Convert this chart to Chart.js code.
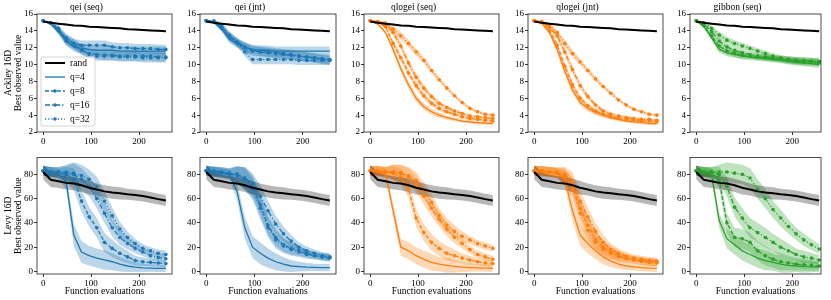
<!DOCTYPE html>
<html>
<head>
<meta charset="utf-8">
<script src="https://cdn.jsdelivr.net/npm/chart.js@4.4.0/dist/chart.umd.min.js"></script>
<style>
  body { margin: 0; background: #fff; width: 831px; height: 300px; overflow: hidden; position: relative; }
  .panel { position: absolute; }
</style>
</head>
<body>
<script>
// function evaluations (x), one value every 16 evaluations
const evals = [0, 16, 32, 48, 64, 80, 96, 112, 128, 144, 160, 176, 192, 208, 224, 240, 256];
const methods = ['qei (seq)', 'qei (jnt)', 'qlogei (seq)', 'qlogei (jnt)', 'gibbon (seq)'];
const batchLabels = ['q=4', 'q=8', 'q=16', 'q=32'];
const problems = ['Ackley 16D', 'Levy 16D'];
const xTickValues = [0, 100, 200];
const ackleyTickValues = [2, 4, 6, 8, 10, 12, 14, 16];
const levyTickValues = [0, 20, 40, 60, 80];

// --- Ackley 16D (top row) ---
const ackleyRand = [15.1, 14.95, 14.85, 14.75, 14.65, 14.6, 14.5, 14.45, 14.4, 14.35, 14.3, 14.2, 14.15, 14.1, 14.05, 14.0, 13.95];
const ackleyRandSpread = [0.08, 0.08, 0.08, 0.08, 0.08, 0.08, 0.08, 0.08, 0.08, 0.08, 0.08, 0.08, 0.08, 0.08, 0.08, 0.08, 0.08];

// rows: q=4, q=8, q=16, q=32
const ackleyQeiSeq = [
  [15.2, 14.8, 13.9, 12.8, 12.1, 11.9, 11.8, 11.7, 11.7, 11.7, 11.6, 11.6, 11.6, 11.6, 11.6, 11.6, 11.6],
  [15.2, 14.9, 14.2, 13.0, 12.5, 12.3, 12.3, 12.3, 12.3, 12.1, 12.0, 12.0, 11.9, 11.9, 11.9, 11.8, 11.8],
  [15.2, 14.9, 14.0, 12.8, 12.3, 11.7, 11.3, 11.2, 11.1, 11.1, 11.0, 11.0, 11.0, 11.0, 11.0, 10.9, 10.9],
  [15.2, 15.0, 14.3, 13.2, 12.5, 11.8, 11.2, 11.0, 11.0, 11.0, 10.9, 10.9, 10.9, 10.8, 10.8, 10.8, 10.8]
];
const ackleyQeiJnt = [
  [15.2, 15.0, 14.2, 13.0, 12.5, 12.1, 11.8, 11.7, 11.7, 11.6, 11.6, 11.6, 11.6, 11.6, 11.6, 11.6, 11.6],
  [15.2, 15.1, 14.3, 13.2, 12.6, 12.0, 11.6, 11.5, 11.4, 11.3, 11.2, 11.1, 11.0, 10.9, 10.8, 10.7, 10.6],
  [15.2, 15.1, 14.5, 13.4, 12.7, 12.1, 11.7, 11.6, 11.5, 11.4, 11.3, 11.2, 11.0, 10.9, 10.8, 10.6, 10.5],
  [15.2, 15.2, 14.7, 13.5, 12.6, 11.5, 10.6, 10.6, 10.6, 10.6, 10.6, 10.6, 10.5, 10.5, 10.5, 10.5, 10.5]
];
const ackleyQlogeiSeq = [
  [15.2, 14.8, 13.8, 11.8, 9.5, 7.6, 6.0, 5.0, 4.4, 4.0, 3.7, 3.5, 3.3, 3.2, 3.1, 3.05, 3.0],
  [15.2, 15.0, 14.5, 12.5, 10.8, 9.0, 7.5, 6.3, 5.4, 4.8, 4.4, 4.1, 3.8, 3.6, 3.5, 3.4, 3.3],
  [15.2, 15.1, 14.8, 13.8, 12.2, 10.2, 8.5, 7.2, 6.2, 5.4, 4.9, 4.5, 4.2, 3.9, 3.8, 3.7, 3.6],
  [15.2, 15.1, 14.9, 14.2, 13.4, 12.5, 11.5, 10.5, 9.3, 8.2, 7.2, 6.3, 5.5, 4.8, 4.4, 4.1, 4.0]
];
const ackleyQlogeiJnt = [
  [15.2, 14.9, 13.8, 11.8, 9.2, 7.0, 5.5, 4.8, 4.3, 4.0, 3.7, 3.5, 3.3, 3.2, 3.1, 3.0, 3.0],
  [15.2, 15.0, 14.0, 12.3, 9.8, 7.6, 6.0, 5.1, 4.5, 4.1, 3.8, 3.6, 3.5, 3.4, 3.3, 3.3, 3.2],
  [15.2, 15.1, 14.4, 13.4, 11.5, 9.4, 7.5, 6.2, 5.2, 4.5, 4.1, 3.9, 3.7, 3.6, 3.5, 3.5, 3.4],
  [15.2, 15.1, 14.7, 13.8, 12.5, 11.3, 10.3, 9.3, 8.3, 7.4, 6.6, 5.8, 5.2, 4.7, 4.4, 4.1, 4.0]
];
const ackleyGibbon = [
  [15.2, 14.5, 13.2, 11.8, 11.4, 11.2, 11.0, 10.9, 10.8, 10.7, 10.6, 10.5, 10.4, 10.3, 10.2, 10.1, 10.0],
  [15.2, 14.6, 13.4, 12.2, 11.6, 11.3, 11.1, 11.0, 10.9, 10.8, 10.7, 10.6, 10.5, 10.4, 10.3, 10.3, 10.2],
  [15.2, 14.8, 13.9, 12.8, 12.1, 11.7, 11.4, 11.2, 11.0, 10.9, 10.8, 10.7, 10.6, 10.5, 10.4, 10.4, 10.3],
  [15.2, 15.0, 14.3, 13.5, 12.9, 12.5, 12.2, 11.9, 11.6, 11.3, 11.0, 10.8, 10.6, 10.5, 10.5, 10.4, 10.4]
];
const ackleySpreads = [
  [0.05, 0.15, 0.35, 0.5, 0.55, 0.55, 0.55, 0.55, 0.55, 0.55, 0.55, 0.55, 0.55, 0.55, 0.55, 0.55, 0.55],
  [0.05, 0.1, 0.3, 0.45, 0.5, 0.55, 0.55, 0.55, 0.55, 0.55, 0.55, 0.55, 0.55, 0.55, 0.55, 0.55, 0.55],
  [0.05, 0.1, 0.25, 0.4, 0.45, 0.45, 0.45, 0.4, 0.35, 0.3, 0.25, 0.22, 0.2, 0.2, 0.18, 0.18, 0.18],
  [0.05, 0.1, 0.25, 0.4, 0.45, 0.45, 0.4, 0.35, 0.3, 0.28, 0.25, 0.22, 0.2, 0.2, 0.18, 0.18, 0.18],
  [0.05, 0.15, 0.3, 0.4, 0.4, 0.4, 0.4, 0.35, 0.35, 0.35, 0.35, 0.35, 0.4, 0.4, 0.4, 0.4, 0.4]
];

// --- Levy 16D (bottom row) ---
const levyRand = [82, 75.6, 74.3, 73, 72.4, 71, 69, 67.5, 66, 65, 64.4, 63.6, 63, 62.2, 61, 59.6, 58.5];
const levyRandSpread = [6, 6, 5.5, 5.5, 5.5, 5.5, 5.5, 5, 5, 5, 5, 4.5, 4.5, 4.5, 4.5, 4.5, 4.5];

const levyQeiSeq = [
  [83, 82, 80, 74, 30, 16, 13, 11, 9.5, 8, 6, 4.5, 3.5, 3, 2.8, 2.6, 2.5],
  [83, 82, 81, 80, 76, 58, 45, 36, 24, 19, 15, 12, 9, 8, 7.5, 7, 6.5],
  [83, 82, 82, 81, 80, 76, 70, 60, 48, 36, 28, 23, 19, 16, 13, 11.5, 10.5],
  [83, 82, 82, 82, 81, 79, 76, 70, 58, 46, 35, 28, 23, 19, 17, 15, 14]
];
const levyQeiJnt = [
  [83, 82, 81, 80, 66, 36, 20, 15, 11, 8, 6, 4.5, 4, 3.6, 3.4, 3.2, 3.1],
  [83, 82, 81, 80, 79, 77, 70, 55, 38, 28, 22, 19, 17, 15, 13, 12, 11],
  [83, 83, 82, 81, 80, 77, 72, 62, 50, 39, 31, 25, 20, 17, 15, 13, 12],
  [83, 82, 82, 81, 80, 76, 68, 52, 36, 26, 21, 18, 16, 14, 13, 12, 11.5]
];
const levyQlogeiSeq = [
  [83, 82, 81, 50, 20, 17, 13, 10, 7.5, 6, 5, 4.2, 3.6, 3.2, 2.9, 2.7, 2.5],
  [83, 83, 82, 81, 78, 68, 44, 32, 24, 19, 15, 13, 11, 9.5, 8, 7, 6.5],
  [83, 83, 82, 82, 81, 78, 72, 62, 52, 43, 35, 28, 23, 18, 14, 12, 10],
  [83, 83, 82, 82, 81, 79, 75, 67, 57, 46, 38, 33, 29, 26, 23, 21, 19]
];
const levyQlogeiJnt = [
  [83, 82, 82, 81, 76, 50, 30, 23, 17, 12, 8.5, 6, 4.5, 3.8, 3.2, 2.8, 2.6],
  [83, 83, 82, 81, 78, 70, 52, 38, 26, 20, 16, 13, 11, 9.5, 8.5, 7.5, 7],
  [83, 83, 82, 82, 80, 74, 58, 45, 33, 24, 18, 15, 12.5, 11, 10, 9, 8.5],
  [83, 83, 82, 81, 79, 68, 48, 34, 24, 18, 15, 12, 10.5, 9.5, 8.5, 8, 7.5]
];
const levyGibbon = [
  [83, 82, 80, 42, 27, 22, 17, 14, 11, 9, 7.5, 6, 5, 4.5, 4, 3.8, 3.5],
  [83, 82, 81, 75, 40, 28, 27, 24, 17, 13, 10, 8, 7, 6, 5.5, 5, 4.5],
  [83, 82, 82, 80, 70, 53, 44, 36, 32, 28, 24, 20, 17, 14, 12, 11, 9.5],
  [83, 82, 82, 82, 82, 81, 80, 77, 68, 60, 51, 44, 37, 31, 26, 22, 18.5]
];
const levySpreads = [
  [4, 4, 4, 6, 9, 9, 8, 8, 8, 7, 6, 5, 4, 3.5, 3, 3, 3],
  [4, 4, 4, 4, 7, 9, 9, 9, 8, 7, 6, 5, 4, 3.5, 3, 3, 3],
  [4, 4, 4, 6, 7, 7, 7, 7, 7, 6, 6, 5, 4, 3.5, 3, 3, 3],
  [4, 4, 4, 4, 6, 8, 9, 8, 7, 6, 5, 4, 3.5, 3, 3, 3, 3],
  [4, 4, 4, 6, 8, 8, 8, 8, 8, 8, 7, 7, 6, 5, 5, 4.5, 4]
];

const methodColors = ['#1f77b4', '#1f77b4', '#ff7f0e', '#ff7f0e', '#2ca02c'];
const bandColors = ['rgba(31,119,180,0.3)', 'rgba(31,119,180,0.3)', 'rgba(255,127,14,0.3)', 'rgba(255,127,14,0.3)', 'rgba(44,160,44,0.3)'];
const qStyles = [
  { dash: [], radius: 0 },
  { dash: [4, 2], radius: 1.8 },
  { dash: [5, 2, 1.2, 2], radius: 1.8 },
  { dash: [1.2, 2], radius: 1.8 }
];

const rows = [
  { title: problems[0], rand: ackleyRand, randSpread: ackleyRandSpread, runs: [ackleyQeiSeq, ackleyQeiJnt, ackleyQlogeiSeq, ackleyQlogeiJnt, ackleyGibbon], spreads: ackleySpreads, ticks: ackleyTickValues, min: 2, max: 16 },
  { title: problems[1], rand: levyRand, randSpread: levyRandSpread, runs: [levyQeiSeq, levyQeiJnt, levyQlogeiSeq, levyQlogeiJnt, levyGibbon], spreads: levySpreads, ticks: levyTickValues, min: -2.1, max: 94 }
];

const FONT = "'Liberation Serif', 'Times New Roman', serif";
// Lage der Zeichenflächen (letzte Spalte ist im Bild rechts angeschnitten)
const frameLeft = [37, 200, 364, 528, 690];
const frameW = [136, 137, 136, 136, 132];
const xMax = [268.8, 268.8, 268.8, 268.8, 259.8];
const rowTop = [14, 155];
const rowH = [118, 119];
const yAxisW = 37;
const topPad = [17, 4];
const xAxisH = [18, 23];

function pts(vals, off, sign) {
  return evals.map((x, i) => ({ x: x, y: vals[i] + (off ? sign * off[i] : 0) }));
}

// Rahmen um die Zeichenfläche (wie matplotlib)
const framePlugin = {
  id: 'frame',
  afterDatasetsDraw(chart) {
    const { ctx, chartArea: a } = chart;
    ctx.save();
    ctx.strokeStyle = '#222';
    ctx.lineWidth = 0.8;
    ctx.strokeRect(a.left, a.top, a.right - a.left, a.bottom - a.top);
    ctx.restore();
  }
};

// Legende nur im ersten Panel
const legendPlugin = {
  id: 'boxLegend',
  afterDraw(chart) {
    const { ctx, chartArea: a } = chart;
    const x0 = a.left + 4, y0 = a.top + 43;
    ctx.save();
    ctx.fillStyle = 'rgba(255,255,255,0.85)';
    ctx.strokeStyle = '#cccccc';
    ctx.lineWidth = 0.8;
    ctx.beginPath();
    ctx.roundRect(x0, y0, 54, 69, 2);
    ctx.fill();
    ctx.stroke();
    const entries = [{ label: 'rand', color: '#000', dash: [], radius: 0, width: 2 }]
      .concat(batchLabels.map((l, i) => ({ label: l, color: methodColors[0], dash: qStyles[i].dash, radius: qStyles[i].radius, width: 1.3 })));
    entries.forEach((e, i) => {
      const y = y0 + 6 + i * 14;
      ctx.strokeStyle = e.color;
      ctx.lineWidth = e.width;
      ctx.setLineDash(e.dash);
      ctx.beginPath();
      ctx.moveTo(x0 + 4, y);
      ctx.lineTo(x0 + 24, y);
      ctx.stroke();
      ctx.setLineDash([]);
      if (e.radius) {
        ctx.fillStyle = e.color;
        ctx.beginPath();
        ctx.arc(x0 + 14, y, e.radius, 0, Math.PI * 2);
        ctx.fill();
      }
      ctx.fillStyle = '#000';
      ctx.font = '9.5px ' + FONT;
      ctx.textBaseline = 'middle';
      ctx.fillText(e.label, x0 + 29, y + 0.5);
    });
    ctx.restore();
  }
};

function makePanel(r, c) {
  const row = rows[r];
  const w = yAxisW + frameW[c] + 3;
  const h = topPad[r] + rowH[r] + xAxisH[r];
  const div = document.createElement('div');
  div.className = 'panel';
  div.style.left = (frameLeft[c] - yAxisW) + 'px';
  div.style.top = (rowTop[r] - topPad[r]) + 'px';
  div.style.width = w + 'px';
  div.style.height = h + 'px';
  const canvas = document.createElement('canvas');
  canvas.width = w;
  canvas.height = h;
  canvas.style.width = w + 'px';
  canvas.style.height = h + 'px';
  div.appendChild(canvas);
  document.body.appendChild(div);

  const datasets = [];
  // Bänder (unten, oben)
  datasets.push({ data: pts(row.rand, row.randSpread, -1), borderWidth: 0, borderColor: 'transparent', pointRadius: 0, fill: false, order: 10 });
  datasets.push({ data: pts(row.rand, row.randSpread, 1), borderWidth: 0, borderColor: 'transparent', pointRadius: 0, fill: '-1', backgroundColor: 'rgba(0,0,0,0.28)', order: 10 });
  row.runs[c].forEach(vals => {
    datasets.push({ data: pts(vals, row.spreads[c], -1), borderWidth: 0, borderColor: 'transparent', pointRadius: 0, fill: false, order: 10 });
    datasets.push({ data: pts(vals, row.spreads[c], 1), borderWidth: 0, borderColor: 'transparent', pointRadius: 0, fill: '-1', backgroundColor: bandColors[c], order: 10 });
  });
  // Linien
  datasets.push({ data: pts(row.rand), borderColor: '#000', borderWidth: 2, pointRadius: 0, fill: false, order: 0 });
  row.runs[c].forEach((vals, i) => {
    datasets.push({
      data: pts(vals), borderColor: methodColors[c], borderWidth: 1.3, borderDash: qStyles[i].dash,
      pointRadius: qStyles[i].radius, pointBackgroundColor: methodColors[c], pointBorderWidth: 0,
      fill: false, order: 1
    });
  });

  const tickFont = { family: FONT, size: 9 };
  new Chart(canvas.getContext('2d'), {
    type: 'line',
    data: { datasets: datasets },
    options: {
      responsive: false,
      animation: false,
      devicePixelRatio: 1,
      layout: { padding: { top: r === 1 ? topPad[1] : 0, right: 3, left: 0, bottom: 0 } },
      plugins: {
        legend: { display: false },
        tooltip: { enabled: false },
        title: {
          display: r === 0,
          text: methods[c],
          color: '#000',
          font: { family: FONT, size: 9.5, weight: 'normal' },
          padding: { top: 4.6, bottom: 1 }
        }
      },
      scales: {
        x: {
          type: 'linear',
          min: -12.8,
          max: xMax[c],
          afterBuildTicks: s => { s.ticks = xTickValues.map(v => ({ value: v })); },
          afterFit: s => { s.height = xAxisH[r]; },
          ticks: { font: tickFont, color: '#000', padding: 1, maxRotation: 0, autoSkip: false },
          grid: { drawOnChartArea: false, drawTicks: true, tickLength: 3, color: '#000', lineWidth: 0.8 },
          border: { display: false },
          title: {
            display: r === 1,
            text: 'Function evaluations',
            color: '#000',
            font: { family: FONT, size: 9.5 },
            padding: { top: 0, bottom: 0 }
          }
        },
        y: {
          min: row.min,
          max: row.max,
          afterBuildTicks: s => { s.ticks = row.ticks.map(v => ({ value: v })); },
          afterFit: s => { s.width = yAxisW; },
          ticks: { font: tickFont, color: '#000', padding: 1, autoSkip: false },
          grid: { drawOnChartArea: false, drawTicks: true, tickLength: 3, color: '#000', lineWidth: 0.8 },
          border: { display: false },
          title: {
            display: c === 0,
            text: [row.title, 'Best observed value'],
            color: '#000',
            font: { family: FONT, size: 9.5, lineHeight: 1.0 },
            padding: { top: 4, bottom: 0 }
          }
        }
      }
    },
    plugins: r === 0 && c === 0 ? [framePlugin, legendPlugin] : [framePlugin]
  });
}

for (let r = 0; r < 2; r++) {
  for (let c = 0; c < 5; c++) {
    makePanel(r, c);
  }
}
</script>
</body>
</html>
